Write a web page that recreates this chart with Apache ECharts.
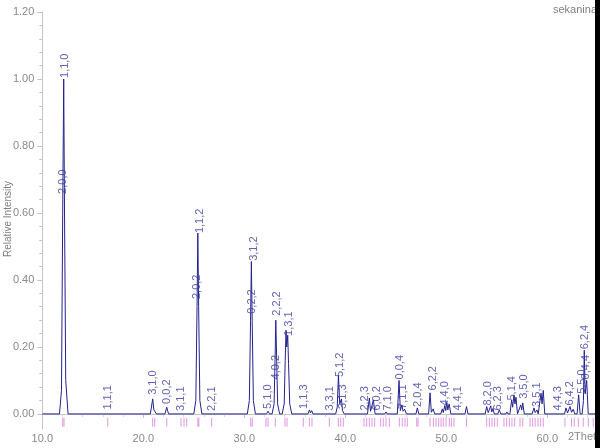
<!DOCTYPE html>
<html><head><meta charset="utf-8">
<script src="https://cdn.jsdelivr.net/npm/echarts@6/dist/echarts.min.js"></script>
<style>html,body{margin:0;padding:0;background:#fff}#c{width:600px;height:448px}</style>
</head><body><div id="c"></div>
<script>
// Profile points [2theta, relative intensity]
const profile = [
 [10,0],
 [11.7,0],[11.9,0.07],[12.02,0.6],[12.12,1.0],[12.2,0.6],[12.32,0.1],[12.55,0],
 [16.4,0],[16.5,0.004],[16.6,0],
 [20.7,0],[20.93,0.045],[21.05,0.012],[21.13,0.016],[21.3,0],
 [22.15,0],[22.32,0.02],[22.5,0],
 [24.2,0],[24.3,0.004],[24.4,0],
 [25.0,0],[25.2,0.04],[25.32,0.32],[25.4,0.54],[25.48,0.32],[25.6,0.04],[25.8,0],
 [26.7,0],[26.8,0.003],[26.9,0],
 [30.3,0],[30.5,0.04],[30.62,0.28],[30.7,0.455],[30.78,0.28],[30.9,0.04],[31.1,0],
 [32.2,0],[32.35,0.008],[32.5,0],
 [32.75,0],[32.95,0.03],[33.05,0.17],[33.12,0.28],[33.2,0.17],[33.3,0.03],[33.5,0],
 [33.75,0],[33.95,0.03],[34.05,0.16],[34.13,0.25],[34.2,0.2],[34.3,0.235],[34.38,0.15],[34.5,0.03],[34.7,0],
 [36.3,0],[36.45,0.012],[36.55,0.003],[36.67,0.01],[36.8,0],
 [39.05,0],[39.2,0.02],[39.32,0.116],[39.45,0.03],[39.62,0.045],[39.72,0.01],[39.9,0],
 [42.2,0],[42.38,0.047],[42.5,0.008],[42.58,0.01],[42.78,0.042],[42.95,0],
 [43.9,0],[44.03,0.006],[44.15,0],
 [45.15,0],[45.32,0.10],[45.45,0.01],[45.6,0.027],[45.72,0.008],[45.88,0.014],[46.05,0],
 [47.0,0],[47.13,0.018],[47.28,0],
 [48.25,0],[48.39,0.063],[48.52,0.005],[48.7,0.015],[48.85,0],
 [49.45,0],[49.6,0.015],[49.7,0.004],[49.85,0.025],[49.95,0.01],[50.05,0.035],[50.15,0.012],[50.28,0.03],[50.45,0],
 [51.85,0],[52.0,0.022],[52.15,0],
 [53.85,0],[54.0,0.022],[54.15,0.004],[54.4,0.024],[54.5,0.006],[54.62,0.016],[54.75,0],
 [55.1,0],[55.25,0.012],[55.4,0],
 [55.9,0],[56.0,0.006],[56.1,0],
 [56.3,0],[56.47,0.042],[56.57,0.02],[56.7,0.057],[56.8,0.03],[56.9,0.05],[57.05,0],
 [57.2,0],[57.37,0.027],[57.47,0.012],[57.57,0.033],[57.72,0],
 [58.5,0],[58.68,0.018],[58.8,0.004],[58.98,0.012],[59.1,0],
 [59.2,0],[59.38,0.062],[59.48,0.03],[59.6,0.07],[59.75,0],
 [61.7,0],[61.85,0.018],[62.0,0.003],[62.25,0.022],[62.4,0.005],[62.57,0.014],[62.72,0],
 [62.95,0],[63.1,0.057],[63.25,0],
 [63.45,0],[63.58,0.04],[63.66,0.19],[63.75,0.06],[63.9,0.10],[64.05,0],
 [65,0]
];

// Reflection positions (pink tick marks)
const reflPos = [12.02,12.15,16.48,20.93,21.13,22.32,23.73,24.03,24.3,25.4,25.5,26.77,
 30.63,30.79,32.15,32.35,33.07,34.03,34.23,35.84,36.44,36.7,38.42,39.31,39.55,39.8,
 41.85,42.12,42.38,42.64,42.91,43.5,43.76,44.03,44.36,45.35,45.64,45.91,46.14,47.07,47.2,
 48.39,48.72,48.98,49.25,49.48,49.7,49.97,50.3,50.5,50.76,52.0,
 54.0,54.26,54.52,54.79,55.05,55.71,55.98,56.24,56.5,56.77,57.3,57.57,
 58.29,58.55,58.8,59.08,59.34,59.6,61.75,62.4,62.67,63.07,63.56,64.06,64.55];

// hkl labels
const hklText = ["1,1,0","2,0,0","1,1,1","3,1,0","0,0,2","3,1,1","1,1,2","2,0,2","2,2,1",
 "3,1,2","0,2,2","5,1,0","4,0,2","2,2,2","1,3,1","1,1,3","3,3,1","5,1,2","3,1,3",
 "2,2,3","6,0,2","7,1,0","0,0,4","7,1,1","2,0,4","6,2,2","4,4,0","4,4,1",
 "8,2,0","6,2,3","5,1,4","3,5,0","3,5,1","4,4,3","6,4,2","5,5,0","0,4,4","6,2,4"];
const hklPos = [12.2,12.05,16.5,20.96,22.35,23.74,25.6,25.3,26.77,
 30.94,30.8,32.35,33.1,33.2,34.4,35.9,38.53,39.47,39.77,
 41.95,43.1,44.23,45.37,45.7,47.15,48.68,49.87,51.16,
 54.13,55.12,56.55,57.7,58.93,61.1,62.25,63.4,63.83,63.73];
const hklBase = [1.0,0.654,0.01,0.054,0.027,0.006,0.537,0.34,0.006,
 0.454,0.296,0.012,0.10,0.29,0.23,0.012,0.007,0.107,0.012,
 0.007,0.007,0.007,0.10,0.012,0.018,0.067,0.022,0.007,
 0.022,0.007,0.037,0.042,0.018,0.007,0.022,0.057,0.10,0.19];

const yMajor = [0,0.2,0.4,0.6,0.8,1.0,1.2];
const yMinor = [0.04,0.08,0.12,0.16,0.24,0.28,0.32,0.36,0.44,0.48,0.52,0.56,0.64,0.68,0.72,0.76,0.84,0.88,0.92,0.96,1.04,1.08,1.12,1.16];

const chart = echarts.init(document.getElementById('c'), null, {renderer:'canvas'});
const axisGray = '#c4c4c4';
const textGray = '#8a8a8a';
const FONT = 'Liberation Sans, Arial, sans-serif';
chart.setOption({
  animation: false,
  textStyle: {fontFamily: FONT},
  grid: {left: 42.3, top: 12, width: 555.5, height: 417, containLabel: false},
  xAxis: {
    type: 'value', min: 10, max: 65, interval: 10,
    axisLine: {show: true, lineStyle: {color: axisGray}},
    axisTick: {show: true, length: 4, lineStyle: {color: axisGray}},
    minorTick: {show: true, splitNumber: 5, length: 3, lineStyle: {color: '#d8d8d8'}},
    axisLabel: {color: textGray, fontSize: 11, margin: 4, showMaxLabel: false,
      formatter: v => v.toFixed(1)},
    splitLine: {show: false}
  },
  yAxis: [{
    type: 'value', min: -0.045, max: 1.2,
    axisLine: {show: true, lineStyle: {color: axisGray}},
    axisTick: {show: true, length: 5, customValues: yMajor, lineStyle: {color: axisGray}},
    axisLabel: {color: textGray, fontSize: 11, margin: 8, customValues: yMajor,
      formatter: v => v.toFixed(2)},
    splitLine: {show: false}
  },{
    type: 'value', min: -0.045, max: 1.2, position: 'left',
    axisLine: {show: false},
    axisTick: {show: true, length: 3, customValues: yMinor, lineStyle: {color: axisGray}},
    axisLabel: {show: false},
    splitLine: {show: false}
  }],
  series: [
    {type: 'scatter', name: 'refl', silent: true, symbol: 'rect', symbolSize: [1, 9],
     itemStyle: {color: '#d77ed7'}, data: reflPos.map(p => [p, -0.025]), z: 1},
    {type: 'line', name: 'profile', data: profile, showSymbol: false, symbol: 'none',
     lineStyle: {color: '#23238e', width: 1}, z: 3, silent: true},
    {type: 'scatter', name: 'hkl', silent: true, symbolSize: 0,
     data: hklText.map((t, i) => ({name: t, value: [hklPos[i], hklBase[i]]})),
     label: {show: true, formatter: '{b}', rotate: 90, position: [0, -1],
       align: 'left', verticalAlign: 'middle', color: '#3a3aa6', fontSize: 11},
     z: 4}
  ],
  graphic: [
    {type: 'text', x: 8, y: 219, rotation: Math.PI/2,
     style: {text: 'Relative Intensity', fill: '#808080', font: '10px ' + FONT, align: 'center', verticalAlign: 'middle'}},
    {type: 'text', x: 568, y: 437, style: {text: '2Theta', fill: textGray, font: '11px ' + FONT, verticalAlign: 'middle'}},
    {type: 'text', x: 553, y: 10, style: {text: 'sekaninaite', fill: '#808080', font: '11px ' + FONT, verticalAlign: 'middle'}},
    {type: 'rect', shape: {x: 595, y: 0, width: 5, height: 448}, style: {fill: '#000'}, z: 100}
  ]
});
</script></body></html>
